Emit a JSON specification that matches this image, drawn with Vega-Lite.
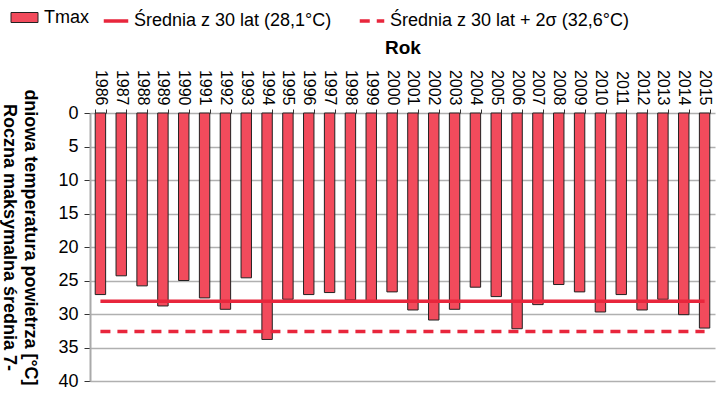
{
  "$schema": "https://vega.github.io/schema/vega-lite/v6.json",
  "width": 625,
  "height": 268,
  "autosize": {"type": "none"},
  "padding": {"left": 90, "top": 113, "right": 5, "bottom": 12},
  "background": "white",
  "config": {
    "font": "Liberation Sans",
    "view": {"stroke": null},
    "axis": {"labelColor": "#000", "titleColor": "#000", "tickColor": "#333", "domainColor": "#aaa"}
  },
  "datasets": {
    "bars": [
      {"year": "1986", "value": 27.1}, {"year": "1987", "value": 24.3}, {"year": "1988", "value": 25.8},
      {"year": "1989", "value": 28.8}, {"year": "1990", "value": 25.0}, {"year": "1991", "value": 27.6},
      {"year": "1992", "value": 29.3}, {"year": "1993", "value": 24.6}, {"year": "1994", "value": 33.8},
      {"year": "1995", "value": 27.8}, {"year": "1996", "value": 27.1}, {"year": "1997", "value": 26.8},
      {"year": "1998", "value": 27.9}, {"year": "1999", "value": 28.0}, {"year": "2000", "value": 26.7},
      {"year": "2001", "value": 29.4}, {"year": "2002", "value": 30.9}, {"year": "2003", "value": 29.3},
      {"year": "2004", "value": 26.0}, {"year": "2005", "value": 27.4}, {"year": "2006", "value": 32.2},
      {"year": "2007", "value": 28.6}, {"year": "2008", "value": 25.6}, {"year": "2009", "value": 26.7},
      {"year": "2010", "value": 29.7}, {"year": "2011", "value": 27.1}, {"year": "2012", "value": 29.4},
      {"year": "2013", "value": 27.8}, {"year": "2014", "value": 30.1}, {"year": "2015", "value": 32.1}
    ],
    "lines": [
      {"year": "1986", "value": 28.1, "series": "Średnia z 30 lat (28,1°C)"},
      {"year": "2015", "value": 28.1, "series": "Średnia z 30 lat (28,1°C)"},
      {"year": "1986", "value": 32.6, "series": "Średnia z 30 lat  + 2σ (32,6°C)"},
      {"year": "2015", "value": 32.6, "series": "Średnia z 30 lat  + 2σ (32,6°C)"}
    ]
  },
  "encoding": {
    "x": {
      "field": "year", "type": "ordinal",
      "scale": {"paddingInner": 0.5, "paddingOuter": 0.25},
      "axis": {
        "orient": "top", "title": "Rok", "titleFontSize": 19, "titleFontWeight": "bold",
        "titlePadding": 12, "labelAngle": 90, "labelFontSize": 16, "labelPadding": 4,
        "tickBand": "extent", "tickSize": 4, "domain": false
      }
    },
    "y": {
      "field": "value", "type": "quantitative",
      "scale": {"domain": [0, 40], "reverse": true},
      "axis": {
        "values": [0, 5, 10, 15, 20, 25, 30, 35, 40],
        "labelOverlap": false,
        "title": ["dniowa temperatura powietrza [°C]", "Roczna maksymalna średnia 7-"],
        "titleAngle": 90, "titleFontSize": 18, "titleFontWeight": "bold",
        "titleX": -70, "titleY": 124, "titleAlign": "center", "titleBaseline": "bottom", "titleLineHeight": 21,
        "labelFontSize": 18, "labelPadding": 6, "tickSize": 6,
        "grid": true, "gridColor": "#b0b0b0", "gridWidth": 1.5, "domainColor": "#aaa", "domainWidth": 2
      }
    }
  },
  "layer": [
    {
      "data": {"name": "bars"},
      "mark": {"type": "bar", "fill": "#f24b5c", "stroke": "#222", "strokeWidth": 1},
      "encoding": {
        "fill": {
          "datum": "Tmax",
          "scale": {"domain": ["Tmax"], "range": ["#f24b5c"]},
          "legend": {
            "orient": "none", "legendX": -76, "legendY": -106, "title": null,
            "symbolType": "M-1.35,-0.5H1.35V0.5H-1.35Z", "symbolSize": 400,
            "symbolStrokeColor": "#222", "symbolStrokeWidth": 1, "labelFontSize": 18,
            "labelOffset": 9, "labelColor": "#000"
          }
        }
      }
    },
    {
      "data": {"name": "lines"},
      "mark": {"type": "line", "stroke": "#e8263c", "strokeWidth": 3.5},
      "encoding": {
        "detail": {"field": "series"},
        "strokeDash": {
          "field": "series", "type": "nominal",
          "scale": {"domain": ["Średnia z 30 lat (28,1°C)", "Średnia z 30 lat  + 2σ (32,6°C)"], "range": [[1, 0], [10, 7]]},
          "legend": {
            "orient": "none", "legendX": 12, "legendY": -106, "title": null, "direction": "horizontal",
            "symbolType": "stroke", "symbolSize": 600, "symbolStrokeColor": "#e8263c", "symbolStrokeWidth": 3.5,
            "labelFontSize": 18, "labelOffset": 4, "columnPadding": 20, "labelColor": "#000", "labelLimit": 400
          }
        }
      }
    }
  ]
}
